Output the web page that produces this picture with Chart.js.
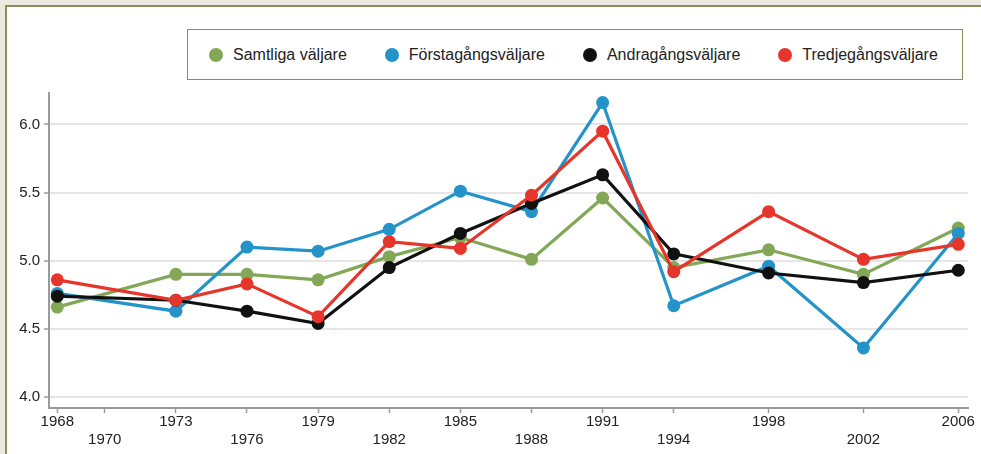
<!DOCTYPE html>
<html>
<head>
<meta charset="utf-8">
<script src="https://cdn.jsdelivr.net/npm/chart.js@4"></script>
<style>
  html, body { margin: 0; padding: 0; }
  body { width: 981px; height: 454px; background: #edeadf; position: relative; overflow: hidden;
         font-family: "Liberation Sans", Arial, sans-serif; }
  #panel { position: absolute; left: 5px; top: 5px; right: 0; bottom: 0; background: #fff;
           border-left: 2px solid #8f8b5c; border-top: 2px solid #8f8b5c; }
  #chart { position: absolute; left: 0; top: 0; }
  #legend { position: absolute; left: 187px; top: 29px; width: 776px; height: 51px;
            border: 1.5px solid #8f8b5c; background: #fff; display: flex; align-items: center;
            padding-left: 21px; box-sizing: border-box; font-size: 16px; color: #222; white-space: nowrap; }
  #legend .item { display: flex; align-items: center; margin-right: 38px; flex-shrink: 0; }
  #legend .item:last-child { margin-right: 0; }
  #legend .dot { width: 14px; height: 14px; border-radius: 50%; margin-right: 10px; flex-shrink: 0; }
</style>
</head>
<body>
<div id="panel"></div>
<canvas id="chart" width="981" height="454"></canvas>
<div id="legend"></div>
<script>
  // survey years and tick years
  const years = [1968, 1973, 1976, 1979, 1982, 1985, 1988, 1991, 1994, 1998, 2002, 2006];
  const tickYears = [1968, 1970, 1973, 1976, 1979, 1982, 1985, 1988, 1991, 1994, 1998, 2002, 2006];
  const yTicks = [4.0, 4.5, 5.0, 5.5, 6.0];

  const seriesNames = ['Samtliga väljare', 'Förstagångsväljare', 'Andragångsväljare', 'Tredjegångsväljare'];
  const seriesColors = ['#82a756', '#2393c9', '#111111', '#e6352b'];

  const samtliga  = [4.66, 4.90, 4.90, 4.86, 5.03, 5.17, 5.01, 5.46, 4.95, 5.08, 4.90, 5.24];
  const forsta    = [4.76, 4.63, 5.10, 5.07, 5.23, 5.51, 5.36, 6.16, 4.67, 4.96, 4.36, 5.20];
  const andra     = [4.74, 4.71, 4.63, 4.54, 4.95, 5.20, 5.42, 5.63, 5.05, 4.91, 4.84, 4.93];
  const tredje    = [4.86, 4.71, 4.83, 4.59, 5.14, 5.09, 5.48, 5.95, 4.92, 5.36, 5.01, 5.12];

  const allSeries = [samtliga, forsta, andra, tredje];
  const drawOrder = [4, 3, 2, 1]; // red on top, green at the bottom

  const datasets = allSeries.map((vals, i) => ({
    label: seriesNames[i],
    data: vals.map((v, k) => ({ x: years[k], y: v })),
    borderColor: seriesColors[i],
    backgroundColor: seriesColors[i],
    borderWidth: 3.2,
    pointRadius: 6.5,
    pointBorderWidth: 0,
    tension: 0,
    order: drawOrder[i]
  }));

  // html legend, built from the series
  const legendEl = document.getElementById('legend');
  seriesNames.forEach((name, i) => {
    const it = document.createElement('div');
    it.className = 'item';
    it.innerHTML = '<span class="dot" style="background:' + seriesColors[i] + '"></span><span>' + name + '</span>';
    legendEl.appendChild(it);
  });

  const tickFont = { family: '"Liberation Sans", Arial, sans-serif', size: 15 };

  new Chart(document.getElementById('chart'), {
    type: 'line',
    data: { datasets },
    options: {
      responsive: false,
      animation: false,
      layout: { padding: { top: 93, right: 13, left: 0, bottom: 0 } },
      plugins: { legend: { display: false }, tooltip: { enabled: false } },
      scales: {
        x: {
          type: 'linear',
          min: 1967.65,
          max: 2006.41,
          afterBuildTicks: (s) => { s.ticks = tickYears.map(v => ({ value: v })); },
          afterFit: (s) => { s.height = 46; },
          border: { color: '#9a9a9a', width: 2 },
          grid: { drawOnChartArea: false, tickLength: 5, tickColor: '#9a9a9a', tickWidth: 1.5 },
          ticks: {
            color: '#222',
            font: tickFont,
            padding: 0,
            maxRotation: 0,
            autoSkip: false,
            callback: (v, i) => (i % 2 === 0 ? [String(v)] : ['', String(v)])
          }
        },
        y: {
          min: 3.92,
          max: 6.23,
          afterBuildTicks: (s) => { s.ticks = yTicks.map(v => ({ value: v })); },
          afterFit: (s) => { s.width = 49; },
          border: { color: '#9a9a9a', width: 2 },
          grid: { color: '#e6e6e6', lineWidth: 2, tickLength: 5, tickColor: '#9a9a9a', tickWidth: 1.5 },
          ticks: {
            color: '#222',
            font: tickFont,
            padding: 4,
            callback: (v) => Number(v).toFixed(1)
          }
        }
      }
    }
  });
</script>
</body>
</html>
